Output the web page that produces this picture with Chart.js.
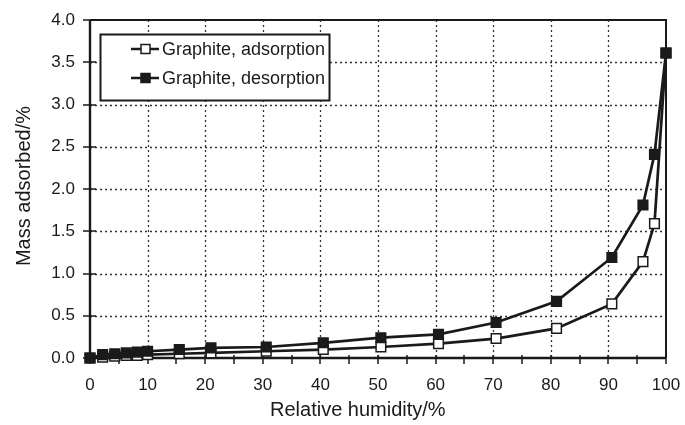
<!DOCTYPE html>
<html>
<head>
<meta charset="utf-8">
<script src="https://cdn.jsdelivr.net/npm/chart.js@4.4.0/dist/chart.umd.min.js"></script>
<style>
  html, body { margin: 0; padding: 0; background: #fff; }
  #wrap { width: 685px; height: 425px; }
</style>
</head>
<body>
<div id="wrap"><canvas id="c" width="685" height="425"></canvas></div>
<script>
// ---- data ----
const humidity = [0, 2.2, 4.3, 6.3, 8.2, 10, 15.5, 21, 30.6, 40.5, 50.5, 60.5, 70.5, 81, 90.6, 96, 98, 100];
const adsorption = [0, 0.01, 0.02, 0.03, 0.03, 0.04, 0.05, 0.06, 0.08, 0.10, 0.13, 0.17, 0.23, 0.35, 0.64, 1.14, 1.59, 3.61];
const desorption = [0, 0.04, 0.05, 0.06, 0.07, 0.08, 0.10, 0.12, 0.13, 0.18, 0.24, 0.28, 0.42, 0.67, 1.19, 1.81, 2.41, 3.61];
const seriesLabels = ["Graphite, adsorption", "Graphite, desorption"];
const xTitle = "Relative humidity/%";
const yTitle = "Mass adsorbed/%";
const xMajorTicks = [0, 10, 20, 30, 40, 50, 60, 70, 80, 90, 100];
const yTicks = [0, 0.5, 1.0, 1.5, 2.0, 2.5, 3.0, 3.5, 4.0];

const FONT = "'Liberation Sans', Arial, Helvetica, sans-serif";
const INK = '#1a1a1a';

const toPts = (xs, ys) => xs.map((x, i) => ({ x: x, y: ys[i] }));

const framePlugin = {
  id: 'frame',
  beforeDatasetsDraw(chart) {
    const { ctx, chartArea: a, scales: { x, y } } = chart;
    ctx.save();
    // dotted grid
    ctx.strokeStyle = '#333';
    ctx.lineWidth = 1.3;
    ctx.setLineDash([2, 3]);
    xMajorTicks.forEach(v => {
      if (v <= 0 || v >= 100) return;
      const px = Math.round(x.getPixelForValue(v)) + 0.5;
      ctx.beginPath(); ctx.moveTo(px, a.top); ctx.lineTo(px, a.bottom); ctx.stroke();
    });
    yTicks.forEach(v => {
      if (v <= 0 || v >= 4) return;
      const py = Math.round(y.getPixelForValue(v)) + 0.5;
      ctx.beginPath(); ctx.moveTo(a.left, py); ctx.lineTo(a.right, py); ctx.stroke();
    });
    ctx.setLineDash([]);
    // frame
    ctx.strokeStyle = INK;
    ctx.lineWidth = 2;
    ctx.beginPath();
    ctx.moveTo(a.left, a.top); ctx.lineTo(a.right, a.top); ctx.lineTo(a.right, a.bottom);
    ctx.stroke();
    ctx.lineWidth = 2.4;
    ctx.beginPath();
    ctx.moveTo(a.left, a.top); ctx.lineTo(a.left, a.bottom); ctx.lineTo(a.right, a.bottom);
    ctx.stroke();
    // y ticks (crossing)
    ctx.lineWidth = 1.5;
    yTicks.forEach(v => {
      const py = Math.round(y.getPixelForValue(v));
      ctx.beginPath(); ctx.moveTo(a.left - 7, py); ctx.lineTo(a.left + 6, py); ctx.stroke();
    });
    // x ticks every 5
    for (let v = 0; v <= 100; v += 5) {
      const px = Math.round(x.getPixelForValue(v));
      ctx.beginPath(); ctx.moveTo(px, a.bottom - 3); ctx.lineTo(px, a.bottom + 6); ctx.stroke();
    }
    ctx.restore();
  },
  afterDraw(chart) {
    const { ctx, chartArea: a, scales: { x } } = chart;
    ctx.save();
    // axis titles
    ctx.fillStyle = INK;
    ctx.font = `20px ${FONT}`;
    ctx.textAlign = 'center';
    ctx.textBaseline = 'middle';
    ctx.fillText(xTitle, x.getPixelForValue(46.5), 410);
    ctx.save();
    ctx.translate(24, (a.top + a.bottom) / 2 - 3);
    ctx.rotate(-Math.PI / 2);
    ctx.fillText(yTitle, 0, 0);
    ctx.restore();
    // legend box
    const bx = 100.5, by = 34.5, bw = 229, bh = 66;
    ctx.fillStyle = '#fff';
    ctx.fillRect(bx, by, bw, bh);
    ctx.strokeStyle = INK;
    ctx.lineWidth = 2;
    ctx.strokeRect(bx, by, bw, bh);
    const rows = [49, 78];
    chart.data.datasets.forEach((ds, i) => {
      const yy = rows[i];
      ctx.strokeStyle = INK;
      ctx.lineWidth = 2.5;
      ctx.beginPath(); ctx.moveTo(131, yy); ctx.lineTo(159, yy); ctx.stroke();
      ctx.fillStyle = ds.pointBackgroundColor;
      ctx.lineWidth = 1.5;
      ctx.fillRect(141, yy - 4.5, 9, 9);
      ctx.strokeRect(141, yy - 4.5, 9, 9);
      ctx.fillStyle = INK;
      ctx.font = `18px ${FONT}`;
      ctx.textAlign = 'left';
      ctx.textBaseline = 'middle';
      ctx.fillText(ds.label, 162, yy + 1);
    });
    ctx.restore();
  }
};

new Chart(document.getElementById('c'), {
  type: 'line',
  data: {
    datasets: [
      {
        label: seriesLabels[0],
        data: toPts(humidity, adsorption),
        borderColor: INK, borderWidth: 2.7,
        pointStyle: 'rect', pointRadius: 6.8,
        pointBackgroundColor: '#ffffff', pointBorderColor: INK, pointBorderWidth: 1.5,
        tension: 0, clip: false, order: 1
      },
      {
        label: seriesLabels[1],
        data: toPts(humidity, desorption),
        borderColor: INK, borderWidth: 2.7,
        pointStyle: 'rect', pointRadius: 6.8,
        pointBackgroundColor: INK, pointBorderColor: INK, pointBorderWidth: 1.5,
        tension: 0, clip: false, order: 0
      }
    ]
  },
  options: {
    responsive: false,
    animation: false,
    devicePixelRatio: 1,
    layout: { padding: { top: 20, right: 19, left: 0, bottom: 0 } },
    plugins: { legend: { display: false }, tooltip: { enabled: false } },
    scales: {
      x: {
        type: 'linear', min: 0, max: 100,
        afterBuildTicks: s => { s.ticks = xMajorTicks.map(v => ({ value: v })); },
        ticks: { color: INK, font: { family: FONT, size: 17 }, padding: 9, maxRotation: 0 },
        grid: { display: false }, border: { display: false },
        afterFit: s => { s.height = 67; s.paddingRight = 0; s.paddingLeft = 0; }
      },
      y: {
        type: 'linear', min: 0, max: 4,
        afterBuildTicks: s => { s.ticks = yTicks.map(v => ({ value: v })); },
        ticks: { color: INK, font: { family: FONT, size: 17 }, padding: 7, callback: v => Number(v).toFixed(1) },
        grid: { display: false }, border: { display: false },
        afterFit: s => { s.width = 90; s.paddingTop = 0; s.paddingBottom = 0; }
      }
    }
  },
  plugins: [framePlugin]
});
</script>
</body>
</html>
